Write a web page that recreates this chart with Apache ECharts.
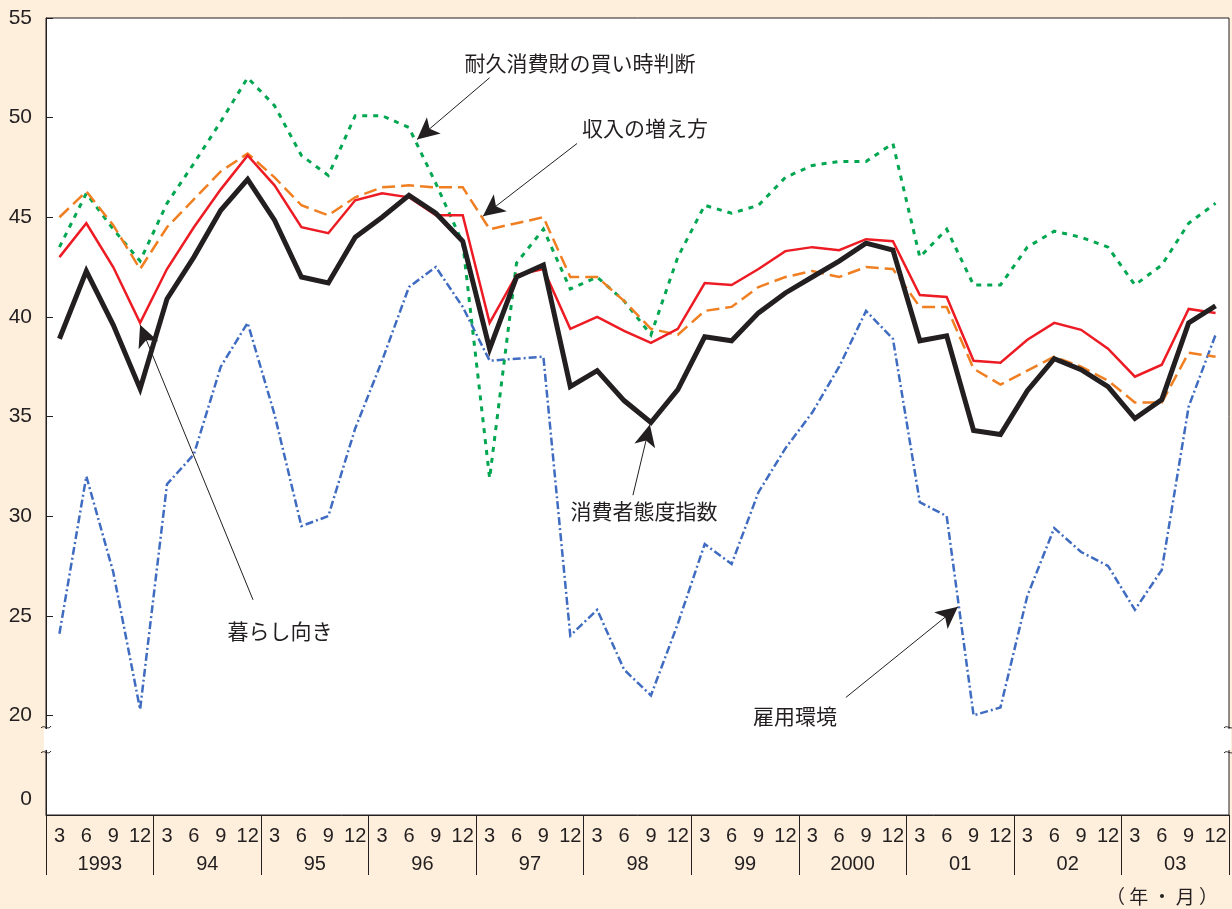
<!DOCTYPE html>
<html>
<head>
<meta charset="utf-8">
<script src="https://cdn.jsdelivr.net/npm/echarts@6/dist/echarts.min.js"></script>
<style>
  html, body { margin: 0; padding: 0; background: #FEEEDC; }
  #chart { width: 1232px; height: 909px; }
</style>
</head>
<body>
<div id="chart"></div>
<script>
// 月・年のラベル
const months = [];
for (let y = 0; y < 11; y++) months.push('3', '6', '9', '12');
const years = ['1993', '94', '95', '96', '97', '98', '99', '2000', '01', '02', '03'];
const yTicks = [15, 20, 25, 30, 35, 40, 45, 50, 55];

// 消費者態度指数
const consumerIndex = [38.9, 42.3, 39.6, 36.4, 40.9, 43.0, 45.35, 46.9, 44.85, 42.0, 41.7, 44.0,
  45.0, 46.1, 45.2, 43.8, 38.4, 42.0, 42.6, 36.5, 37.3, 35.8, 34.7, 36.35,
  39.0, 38.8, 40.2, 41.2, 42.0, 42.8, 43.7, 43.35, 38.8, 39.05, 34.3, 34.1,
  36.3, 37.9, 37.35, 36.5, 34.9, 35.85, 39.7, 40.55];
// 暮らし向き
const livelihood = [43.0, 44.7, 42.5, 39.7, 42.4, 44.5, 46.4, 48.1, 46.6, 44.5, 44.2, 45.85,
  46.2, 46.0, 45.1, 45.1, 39.7, 42.1, 42.4, 39.4, 40.0, 39.3, 38.7, 39.4,
  41.7, 41.6, 42.4, 43.3, 43.5, 43.35, 43.9, 43.8, 41.1, 41.0, 37.8, 37.7,
  38.85, 39.7, 39.35, 38.4, 37.0, 37.6, 40.4, 40.2];
// 収入の増え方
const income = [45.0, 46.3, 44.6, 42.4, 44.5, 45.9, 47.3, 48.2, 47.0, 45.6, 45.1, 46.0,
  46.5, 46.6, 46.5, 46.5, 44.4, 44.7, 45.0, 42.0, 42.0, 40.8, 39.4, 39.1,
  40.3, 40.5, 41.5, 42.0, 42.3, 42.0, 42.5, 42.4, 40.5, 40.5, 37.4, 36.6,
  37.3, 38.0, 37.5, 36.8, 35.7, 35.7, 38.2, 38.0];
// 耐久消費財の買い時判断
const durables = [43.5, 46.2, 44.4, 42.8, 45.7, 47.7, 49.8, 52.0, 50.6, 48.1, 47.1, 50.1,
  50.1, 49.5, 46.7, 43.7, 31.9, 42.7, 44.4, 41.4, 42.0, 40.8, 39.1, 43.0,
  45.6, 45.2, 45.6, 47.0, 47.6, 47.8, 47.8, 48.7, 43.0, 44.4, 41.6, 41.6,
  43.5, 44.3, 44.0, 43.5, 41.6, 42.6, 44.7, 45.7];
// 雇用環境
const employment = [24.1, 32.0, 27.2, 20.3, 31.6, 33.1, 37.5, 39.7, 35.1, 29.5, 30.0, 34.4,
  37.8, 41.5, 42.5, 40.5, 37.8, 37.9, 38.0, 24.0, 25.3, 22.3, 21.0, 24.6,
  28.6, 27.6, 31.2, 33.4, 35.2, 37.5, 40.3, 38.9, 30.7, 30.0, 20.0, 20.4,
  26.0, 29.4, 28.2, 27.5, 25.3, 27.3, 35.5, 39.1];

// 注記の矢印（[系列位置, 値] の始点と終点）
const arrows = [
  [[16.0, 52.0], [13.3, 48.9]],
  [[19.25, 48.7], [15.75, 45.05]],
  [[7.2, 25.8], [3.0, 39.6]],
  [[21.33, 31.05], [21.96, 34.6]],
  [[29.25, 20.9], [33.42, 25.45]]
];

const textColor = '#231F20';
const numFont = '"Liberation Sans", Arial, sans-serif';
const jpFont = '"Noto Sans CJK JP", sans-serif';

function lineSeries(name, data, color, width, type, z) {
  return {
    name: name,
    type: 'line',
    data: data,
    symbol: 'none',
    z: z,
    lineStyle: { color: color, width: width, type: type, join: 'miter', cap: 'butt' }
  };
}

//軸の省略記号
function breakMarks(x) {
  const items = [{
    type: 'rect', z: 100,
    shape: { x: x - 2, y: 729, width: 4, height: 21 },
    style: { fill: '#fff' }
  }];
  [727, 752].forEach(function (y) {
    items.push({
      type: 'bezierCurve', z: 101,
      shape: { x1: x - 5, y1: y + 1, cpx1: x - 2, cpy1: y - 3, cpx2: x + 2, cpy2: y + 4, x2: x + 5, y2: y - 1 },
      style: { stroke: textColor, lineWidth: 1, fill: null }
    });
  });
  return items;
}

function label(text, x, y, size, family) {
  return {
    type: 'text', z: 100,
    style: {
      text: text, x: x, y: y, fill: textColor,
      font: size + 'px ' + family,
      align: 'center', verticalAlign: 'middle',
      textAlign: 'center', textVerticalAlign: 'middle'
    }
  };
}

function generatorOption() {
  const graphics = []
    .concat(breakMarks(46), breakMarks(1229))
    .concat([
      {
        type: 'text', z: 100,
        style: {
          text: '0', x: 32, y: 799, fill: textColor, font: '21px ' + numFont,
          align: 'right', verticalAlign: 'middle', textAlign: 'right', textVerticalAlign: 'middle'
        }
      },
      label('（ 年 ・ 月 ）', 1162, 897, 19, jpFont),
      label('耐久消費財の買い時判断', 580, 63, 21, jpFont),
      label('収入の増え方', 645, 128, 21, jpFont),
      label('暮らし向き', 280, 631, 21, jpFont),
      label('消費者態度指数', 644, 511, 21, jpFont),
      label('雇用環境', 795, 716, 21, jpFont)
    ]);

  return {
    backgroundColor: '#FEEEDC',
    animation: false,
    grid: {
      left: 46, right: 3, top: 18, bottom: 94,
      show: true, backgroundColor: '#fff', borderColor: textColor, borderWidth: 1
    },
    xAxis: [
      {
        type: 'category', data: months, position: 'bottom', boundaryGap: true,
        axisLine: { show: true, onZero: false, lineStyle: { color: textColor, width: 1 } },
        axisTick: { show: false },
        axisLabel: { interval: 0, margin: 11, fontSize: 20, color: textColor, fontFamily: numFont },
        splitLine: { show: false }
      },
      {
        type: 'value', min: -0.5, max: 43.5, show: false, position: 'top'
      },
      {
        type: 'category', data: years, position: 'bottom', boundaryGap: true,
        axisLine: { show: false, onZero: false },
        axisTick: { show: true, length: 60, lineStyle: { color: textColor, width: 1 } },
        axisLabel: { interval: 0, margin: 39, fontSize: 20, color: textColor, fontFamily: numFont },
        splitLine: { show: false }
      }
    ],
    yAxis: {
      type: 'value', min: yTicks[0], max: yTicks[yTicks.length - 1], interval: 5,
      axisLine: { show: true, onZero: false, lineStyle: { color: textColor, width: 1 } },
      axisTick: { show: true, inside: true, length: 7, lineStyle: { color: textColor } },
      axisLabel: {
        margin: 14, fontSize: 21, color: textColor, fontFamily: numFont,
        formatter: function (v) { return v === yTicks[0] ? '' : String(v); }
      },
      splitLine: { show: false }
    },
    series: [
      lineSeries('雇用環境', employment, '#3F6CC0', 2.5, [8, 3, 2, 3], 2),
      lineSeries('耐久消費財の買い時判断', durables, '#00A650', 3, [5, 6], 3),
      lineSeries('収入の増え方', income, '#F07F22', 2.5, [13, 6], 4),
      lineSeries('暮らし向き', livelihood, '#ED1C24', 2.5, 'solid', 5),
      lineSeries('消費者態度指数', consumerIndex, '#231F20', 5, 'solid', 6),
      {
        type: 'line', xAxisIndex: 1, data: [], z: 7,
        markLine: {
          silent: true, animation: false,
          symbol: ['none', 'arrow'], symbolSize: [16, 22],
          lineStyle: { color: textColor, width: 1, type: 'solid' },
          label: { show: false },
          data: arrows.map(function (a) { return [{ coord: a[0] }, { coord: a[1] }]; })
        }
      }
    ],
    graphic: graphics
  };
}

function drawChart() {
  const chart = echarts.init(document.getElementById('chart'));
  if (chart == undefined) {
    console.log('echarts init dom is failed');
    return;
  }
  chart.setOption(generatorOption());
}

drawChart();
</script>
</body>
</html>
